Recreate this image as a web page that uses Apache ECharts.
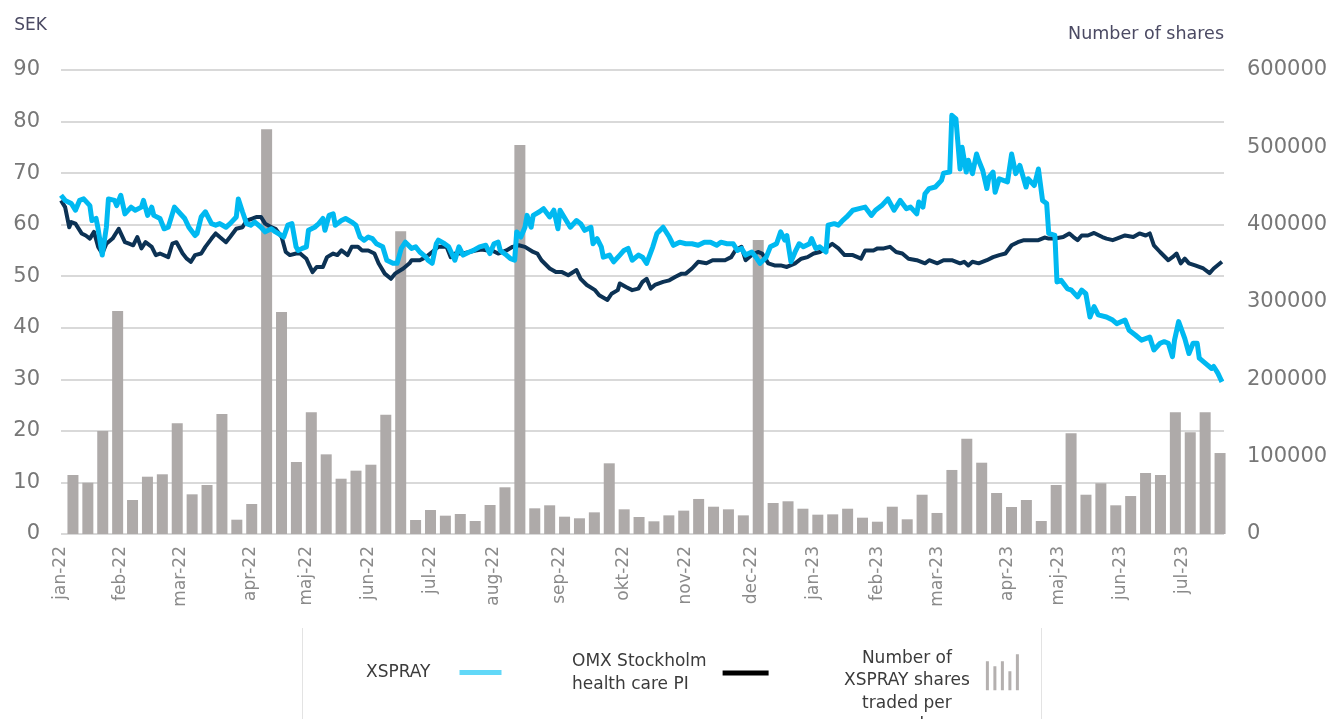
<!DOCTYPE html>
<html>
<head>
<meta charset="utf-8">
<script src="https://cdn.jsdelivr.net/npm/echarts@6.0.0/dist/echarts.min.js"></script>
<style>
  html, body { margin: 0; padding: 0; background: #fff; }
  #chart { width: 1334px; height: 719px; }
</style>
</head>
<body>
<div id="chart"></div>
<script>
// svenska månadsförkortningar för x-axeln
const monthNames = ['jan', 'feb', 'mar', 'apr', 'maj', 'jun', 'jul', 'aug', 'sep', 'okt', 'nov', 'dec'];

// första handelsdag i varje månad (där etiketterna står)
const monthTicks = [
  '2022-1-3', '2022-2-1', '2022-3-2', '2022-4-5', '2022-5-2', '2022-6-1', '2022-7-1', '2022-8-1', '2022-9-2', '2022-10-3',
  '2022-11-2', '2022-12-4', '2023-1-3', '2023-2-3', '2023-3-4', '2023-4-7', '2023-5-2', '2023-6-1', '2023-7-1'
];

// XSPRAY aktiekurs (SEK)
const xspray = [
  ['2022-1-3',65.7],['2022-1-5',64.7],['2022-1-8',64.1],['2022-1-10',62.8],['2022-1-12',64.7],['2022-1-14',65.0],['2022-1-17',63.7],['2022-1-18',60.8],['2022-1-20',61.2],['2022-1-21',59.2],
  ['2022-1-23',54.1],['2022-1-25',59.5],['2022-1-26',65.0],['2022-1-29',64.7],['2022-1-30',63.7],['2022-2-1',65.7],['2022-2-3',62.1],['2022-2-6',63.4],['2022-2-8',62.8],['2022-2-11',63.4],
  ['2022-2-12',64.7],['2022-2-14',61.8],['2022-2-16',63.4],['2022-2-17',61.8],['2022-2-20',61.2],['2022-2-22',59.2],['2022-2-24',59.5],['2022-2-27',63.4],['2022-3-1',62.5],['2022-3-4',61.2],
  ['2022-3-6',59.5],['2022-3-9',57.9],['2022-3-10',58.3],['2022-3-12',61.5],['2022-3-14',62.5],['2022-3-17',60.2],['2022-3-19',59.9],['2022-3-21',60.2],['2022-3-24',59.5],['2022-3-26',60.2],
  ['2022-3-29',61.5],['2022-3-30',65.0],['2022-4-1',62.5],['2022-4-3',60.2],['2022-4-5',59.9],['2022-4-7',60.5],['2022-4-10',59.5],['2022-4-12',58.6],['2022-4-15',59.2],['2022-4-17',58.6],
  ['2022-4-20',57.9],['2022-4-21',57.6],['2022-4-23',59.9],['2022-4-25',60.2],['2022-4-27',55.7],['2022-4-28',55.0],['2022-4-30',55.4],['2022-5-2',55.7],['2022-5-3',58.9],['2022-5-6',59.5],
  ['2022-5-8',60.2],['2022-5-10',61.2],['2022-5-11',58.9],['2022-5-13',61.8],['2022-5-15',62.1],['2022-5-16',59.9],['2022-5-19',60.8],['2022-5-21',61.2],['2022-5-24',60.5],['2022-5-26',59.9],
  ['2022-5-28',57.6],['2022-5-30',57.0],['2022-6-1',57.6],['2022-6-3',57.3],['2022-6-5',56.3],['2022-6-8',55.7],['2022-6-10',53.1],['2022-6-13',52.5],['2022-6-15',52.5],['2022-6-17',55.4],
  ['2022-6-19',56.6],['2022-6-22',55.4],['2022-6-24',55.7],['2022-6-26',54.7],['2022-6-29',53.7],['2022-6-30',53.1],['2022-7-2',52.5],['2022-7-4',56.3],['2022-7-5',57.0],['2022-7-8',56.3],
  ['2022-7-10',55.7],['2022-7-13',53.1],['2022-7-15',55.7],['2022-7-17',54.1],['2022-7-20',54.7],['2022-7-22',55.0],['2022-7-25',55.7],['2022-7-28',56.0],['2022-7-30',54.4],['2022-8-1',56.3],
  ['2022-8-3',56.6],['2022-8-4',55.0],['2022-8-7',54.1],['2022-8-9',53.4],['2022-8-11',53.1],['2022-8-12',58.6],['2022-8-14',57.6],['2022-8-16',59.5],['2022-8-17',61.8],['2022-8-19',59.5],
  ['2022-8-20',61.8],['2022-8-23',62.5],['2022-8-25',63.1],['2022-8-28',61.5],['2022-8-30',62.8],['2022-9-1',59.2],['2022-9-2',62.8],['2022-9-5',60.8],['2022-9-7',59.5],['2022-9-10',60.8],
  ['2022-9-12',60.2],['2022-9-14',58.9],['2022-9-17',59.5],['2022-9-18',56.3],['2022-9-20',57.3],['2022-9-22',55.7],['2022-9-23',53.7],['2022-9-26',54.1],['2022-9-28',52.8],['2022-10-1',54.1],
  ['2022-10-3',55.0],['2022-10-5',55.4],['2022-10-7',53.1],['2022-10-10',54.1],['2022-10-12',53.7],['2022-10-14',52.5],['2022-10-17',55.7],['2022-10-19',58.3],['2022-10-22',59.5],['2022-10-25',57.6],
  ['2022-10-27',56.0],['2022-10-30',56.6],['2022-11-2',56.3],['2022-11-5',56.3],['2022-11-8',56.0],['2022-11-11',56.6],['2022-11-14',56.6],['2022-11-17',56.0],['2022-11-19',56.6],['2022-11-22',56.3],
  ['2022-11-25',56.3],['2022-11-27',55.0],['2022-11-29',55.4],['2022-12-1',54.1],['2022-12-4',54.7],['2022-12-6',53.7],['2022-12-8',52.5],['2022-12-11',53.7],['2022-12-13',55.7],['2022-12-16',56.3],
  ['2022-12-18',58.6],['2022-12-20',57.0],['2022-12-21',57.9],['2022-12-23',52.8],['2022-12-25',54.7],['2022-12-27',56.3],['2022-12-29',55.7],['2023-1-1',56.3],['2023-1-2',57.3],['2023-1-4',55.4],
  ['2023-1-6',55.7],['2023-1-9',54.7],['2023-1-10',59.9],['2023-1-13',60.2],['2023-1-15',59.9],['2023-1-17',60.8],['2023-1-19',61.5],['2023-1-22',62.8],['2023-1-25',63.1],['2023-1-28',63.4],
  ['2023-1-31',61.8],['2023-2-2',62.8],['2023-2-5',63.7],['2023-2-8',65.0],['2023-2-11',62.8],['2023-2-14',64.7],['2023-2-17',63.1],['2023-2-19',63.4],['2023-2-22',62.1],['2023-2-23',64.4],
  ['2023-2-25',63.4],['2023-2-26',66.0],['2023-2-28',67.0],['2023-3-3',67.3],['2023-3-6',68.6],['2023-3-7',70.0],['2023-3-10',70.2],['2023-3-11',81.2],['2023-3-13',80.5],['2023-3-15',70.8],
  ['2023-3-16',75.0],['2023-3-18',70.2],['2023-3-19',72.5],['2023-3-21',69.9],['2023-3-23',73.7],['2023-3-24',72.5],['2023-3-26',70.5],['2023-3-28',67.0],['2023-3-29',69.2],['2023-3-31',70.2],
  ['2023-4-1',66.3],['2023-4-3',68.9],['2023-4-5',68.6],['2023-4-7',68.3],['2023-4-9',73.7],['2023-4-11',69.9],['2023-4-13',71.5],['2023-4-16',67.3],['2023-4-17',68.9],['2023-4-20',67.6],
  ['2023-4-22',70.8],['2023-4-24',64.7],['2023-4-26',64.1],['2023-4-27',58.3],['2023-4-30',57.9],['2023-5-1',48.9],['2023-5-3',49.2],['2023-5-6',47.6],['2023-5-8',47.3],['2023-5-11',46.0],
  ['2023-5-13',47.3],['2023-5-15',46.6],['2023-5-17',42.1],['2023-5-19',44.1],['2023-5-21',42.5],['2023-5-25',42.1],['2023-5-28',41.5],['2023-5-30',40.8],['2023-6-3',41.5],['2023-6-5',39.5],
  ['2023-6-8',38.6],['2023-6-11',37.6],['2023-6-15',38.2],['2023-6-17',35.7],['2023-6-20',37.0],['2023-6-22',37.3],['2023-6-24',37.0],['2023-6-26',34.4],['2023-6-27',37.6],['2023-6-29',41.2],
  ['2023-7-2',37.9],['2023-7-4',35.0],['2023-7-6',37.0],['2023-7-8',37.0],['2023-7-9',34.1],['2023-7-12',33.1],['2023-7-15',32.1],['2023-7-16',32.5],['2023-7-18',31.2],['2023-7-20',29.5]
];

// OMX Stockholm health care PI (omräknat till SEK-skalan)
const omx = [
  ['2022-1-3',64.7],['2022-1-5',63.4],['2022-1-7',59.5],['2022-1-8',60.5],['2022-1-10',60.2],['2022-1-13',58.3],['2022-1-15',57.9],['2022-1-17',57.3],['2022-1-19',58.6],['2022-1-21',55.7],
  ['2022-1-23',54.4],['2022-1-25',56.3],['2022-1-28',57.3],['2022-1-31',59.2],['2022-2-3',56.6],['2022-2-5',56.3],['2022-2-7',56.0],['2022-2-9',57.6],['2022-2-11',55.4],['2022-2-13',56.6],
  ['2022-2-16',55.7],['2022-2-18',54.1],['2022-2-20',54.4],['2022-2-24',53.7],['2022-2-26',56.3],['2022-2-28',56.6],['2022-3-3',54.4],['2022-3-5',53.4],['2022-3-7',52.8],['2022-3-9',54.1],
  ['2022-3-12',54.4],['2022-3-14',55.7],['2022-3-17',57.3],['2022-3-19',58.3],['2022-3-21',57.6],['2022-3-24',56.6],['2022-3-26',57.6],['2022-3-29',59.2],['2022-4-1',59.5],['2022-4-3',60.8],
  ['2022-4-6',61.2],['2022-4-8',61.5],['2022-4-10',61.5],['2022-4-12',60.2],['2022-4-15',59.5],['2022-4-17',59.2],['2022-4-20',57.6],['2022-4-22',54.7],['2022-4-24',54.1],['2022-4-27',54.4],
  ['2022-4-29',54.4],['2022-5-2',53.4],['2022-5-3',52.5],['2022-5-5',50.8],['2022-5-7',51.8],['2022-5-10',51.8],['2022-5-12',53.7],['2022-5-15',54.4],['2022-5-17',54.1],['2022-5-19',55.0],
  ['2022-5-22',54.1],['2022-5-24',55.7],['2022-5-27',55.7],['2022-5-29',55.0],['2022-6-1',55.0],['2022-6-4',54.4],['2022-6-6',52.5],['2022-6-9',50.5],['2022-6-12',49.5],['2022-6-14',50.5],
  ['2022-6-18',51.5],['2022-6-21',52.5],['2022-6-22',53.1],['2022-6-26',53.1],['2022-6-29',53.7],['2022-7-2',54.7],['2022-7-5',55.7],['2022-7-9',55.7],['2022-7-11',53.7],['2022-7-13',54.4],
  ['2022-7-17',54.4],['2022-7-20',54.7],['2022-7-23',55.0],['2022-7-26',55.2],['2022-7-29',55.0],['2022-7-31',55.0],['2022-8-3',54.4],['2022-8-7',55.0],['2022-8-10',55.7],['2022-8-13',56.0],
  ['2022-8-16',55.7],['2022-8-20',54.7],['2022-8-22',54.4],['2022-8-24',53.1],['2022-8-28',51.5],['2022-8-31',50.8],['2022-9-3',50.8],['2022-9-6',50.2],['2022-9-10',51.2],['2022-9-12',49.5],
  ['2022-9-15',48.3],['2022-9-19',47.3],['2022-9-21',46.3],['2022-9-25',45.4],['2022-9-27',46.6],['2022-9-30',47.3],['2022-10-1',48.6],['2022-10-4',47.9],['2022-10-7',47.3],['2022-10-10',47.6],
  ['2022-10-12',48.9],['2022-10-14',49.5],['2022-10-16',47.6],['2022-10-18',48.3],['2022-10-22',48.9],['2022-10-25',49.2],['2022-10-28',49.9],['2022-10-31',50.5],['2022-11-2',50.5],['2022-11-5',51.5],
  ['2022-11-8',52.8],['2022-11-12',52.5],['2022-11-15',53.1],['2022-11-18',53.1],['2022-11-21',53.1],['2022-11-24',53.7],['2022-11-26',55.0],['2022-11-29',55.7],['2022-12-1',53.1],['2022-12-4',54.1],
  ['2022-12-7',54.7],['2022-12-9',54.4],['2022-12-12',52.5],['2022-12-15',52.1],['2022-12-18',52.1],['2022-12-21',51.8],['2022-12-25',52.5],['2022-12-28',53.4],['2022-12-31',53.7],['2023-1-3',54.4],
  ['2023-1-6',54.7],['2023-1-10',55.7],['2023-1-12',56.3],['2023-1-15',55.4],['2023-1-18',54.1],['2023-1-22',54.1],['2023-1-26',53.4],['2023-1-28',55.0],['2023-2-1',55.0],['2023-2-3',55.4],
  ['2023-2-6',55.4],['2023-2-9',55.7],['2023-2-12',54.7],['2023-2-15',54.4],['2023-2-18',53.4],['2023-2-22',53.1],['2023-2-26',52.5],['2023-2-28',53.1],['2023-3-4',52.5],['2023-3-7',53.1],
  ['2023-3-11',53.1],['2023-3-15',52.5],['2023-3-17',52.8],['2023-3-19',52.1],['2023-3-21',52.8],['2023-3-24',52.5],['2023-3-28',53.1],['2023-3-31',53.7],['2023-4-3',54.1],['2023-4-6',54.4],
  ['2023-4-9',56.0],['2023-4-12',56.6],['2023-4-15',57.0],['2023-4-18',57.0],['2023-4-22',57.0],['2023-4-25',57.5],['2023-4-27',57.3],['2023-4-30',57.3],['2023-5-4',57.6],['2023-5-7',58.3],
  ['2023-5-9',57.6],['2023-5-11',57.0],['2023-5-13',57.9],['2023-5-16',57.9],['2023-5-19',58.4],['2023-5-23',57.6],['2023-5-25',57.3],['2023-5-28',57.0],['2023-5-30',57.3],['2023-6-3',57.9],
  ['2023-6-7',57.6],['2023-6-10',58.3],['2023-6-13',57.9],['2023-6-15',58.3],['2023-6-17',56.0],['2023-6-20',54.7],['2023-6-24',53.1],['2023-6-26',53.7],['2023-6-28',54.4],['2023-6-30',52.5],
  ['2023-7-2',53.4],['2023-7-4',52.5],['2023-7-7',52.1],['2023-7-11',51.5],['2023-7-14',50.6],['2023-7-16',51.5],['2023-7-20',52.8]
];

// veckor för staplarna
const weeks = [
  '22v1','22v2','22v3','22v4','22v5','22v6','22v7','22v8','22v9','22v10','22v11','22v12','22v13','22v14','22v15','22v16','22v17','22v18','22v19','22v20',
  '22v21','22v22','22v23','22v24','22v25','22v26','22v27','22v28','22v29','22v30','22v31','22v32','22v33','22v34','22v35','22v36','22v37','22v38','22v39','22v40',
  '22v41','22v42','22v43','22v44','22v45','22v46','22v47','22v48','22v49','22v50','22v51','22v52','23v1','23v2','23v3','23v4','23v5','23v6','23v7','23v8',
  '23v9','23v10','23v11','23v12','23v13','23v14','23v15','23v16','23v17','23v18','23v19','23v20','23v21','23v22','23v23','23v24','23v25','23v26'
];

// antal handlade XSPRAY-aktier per vecka
const volume = [
  76300, 66300, 133200, 288300, 44000, 74100, 77200, 143100, 51300, 63400,
  155200, 18500, 38800, 523300, 287000, 93100, 157400, 103000, 71500, 81900,
  89600, 154300, 391400, 18100, 31000, 23700, 25900, 16800, 37500, 60400,
  503000, 33200, 37100, 22400, 20300, 28000, 91400, 31900, 22000, 16400,
  24100, 30200, 45300, 35300, 31900, 24100, 380100, 40100, 42300, 32700,
  25000, 25400, 32700, 21100, 15900, 35300, 19000, 50800, 27200, 82800,
  123300, 92200, 53000, 34900, 44000, 16800, 63400, 130200, 50800, 65600,
  37100, 49100, 78900, 76300, 157400, 131500, 157400, 104700
];

const FONT = 'DejaVu Sans';
const TEXT_DARK = '#3b3b3b';
const X_MIN = '2022-1-3';
const X_MAX = '2023-7-21';

const toTime = s => +echarts.time.parse(s);

const chart = echarts.init(document.getElementById('chart'));

const option = {
  animation: false,
  textStyle: { fontFamily: FONT },
  grid: [
    { left: 61, right: 110, top: 70, bottom: 185 },
    { left: 65.5, right: 106.5, top: 70, bottom: 185 }
  ],
  xAxis: [
    {
      // datumaxel för kurserna
      type: 'time',
      gridIndex: 0,
      min: X_MIN,
      max: X_MAX,
      axisLine: { show: false },
      axisTick: { show: false },
      axisLabel: { show: false },
      splitLine: { show: false }
    },
    { type: 'category', gridIndex: 1, data: weeks, show: false },
    {
      // månadsetiketter vid första handelsdagen
      type: 'value',
      gridIndex: 0,
      position: 'bottom',
      min: toTime(X_MIN),
      max: toTime(X_MAX),
      axisLine: { show: false },
      axisTick: { show: false },
      splitLine: { show: false },
      axisLabel: {
        rotate: 90,
        margin: 12,
        fontSize: 17,
        color: '#8a8a8a',
        customValues: monthTicks.map(toTime),
        formatter: function (value) {
          const d = new Date(value);
          return monthNames[d.getMonth()] + '-' + String(d.getFullYear()).slice(2);
        }
      }
    }
  ],
  yAxis: [
    {
      type: 'value',
      gridIndex: 0,
      min: 0,
      max: 90,
      interval: 10,
      name: 'SEK',
      nameLocation: 'end',
      nameGap: 36,
      nameTextStyle: { align: 'right', padding: [0, 14, 0, 0], fontSize: 17, color: '#4b4a63' },
      axisLine: { show: false },
      axisTick: { show: false },
      axisLabel: { margin: 21, fontSize: 21, color: '#777777' },
      splitLine: { lineStyle: { color: '#d9d9d9', width: 2 } }
    },
    {
      type: 'value',
      gridIndex: 1,
      position: 'right',
      min: 0,
      max: 600000,
      interval: 100000,
      name: 'Number of shares',
      nameLocation: 'end',
      nameGap: 27,
      nameTextStyle: { align: 'right', padding: [0, 3.5, 0, 0], fontSize: 17.5, color: '#4b4a63' },
      axisLine: { show: false },
      axisTick: { show: false },
      axisLabel: { margin: 19.5, fontSize: 21, color: '#777777', formatter: v => String(v) },
      splitLine: { show: false }
    }
  ],
  legend: [
    {
      left: 366, top: 664, padding: 0, align: 'right', selectedMode: false,
      itemWidth: 42, itemHeight: 5,
      data: [{ name: 'XSPRAY', icon: 'rect', itemStyle: { color: '#62d8f8', borderWidth: 0 } }],
      textStyle: { fontFamily: FONT, fontSize: 17, color: TEXT_DARK, padding: [0, 24, 0, 0] }
    },
    {
      left: 572, top: 653, padding: 0, align: 'right', selectedMode: false,
      itemWidth: 46, itemHeight: 5,
      data: [{ name: 'OMX Stockholm health care PI', icon: 'rect', itemStyle: { color: '#000000', borderWidth: 0 } }],
      formatter: () => '{l|OMX Stockholm}\n{l|health care PI}',
      textStyle: {
        padding: [0, 11, 0, 0],
        rich: { l: { align: 'left', fontFamily: FONT, fontSize: 17, lineHeight: 23, color: TEXT_DARK } }
      }
    },
    {
      left: 844, top: 650, padding: 0, align: 'right', selectedMode: false,
      itemWidth: 33, itemHeight: 36,
      data: [{
        name: 'Number of XSPRAY shares traded per week',
        icon: 'path://M0,7h3v29h-3z M7.5,12h3v24h-3z M15,7h3v29h-3z M22.5,17h3v19h-3z M30,0h3v36h-3z',
        itemStyle: { color: '#b4b0af', borderWidth: 0 }
      }],
      formatter: () => '{c|Number of}\n{c|XSPRAY shares}\n{c|traded per}\n{c|week}',
      textStyle: {
        padding: [40, 11, 0, 0],
        rich: { c: { align: 'center', fontFamily: FONT, fontSize: 17, lineHeight: 22.5, color: TEXT_DARK } }
      }
    }
  ],
  graphic: [
    { type: 'line', shape: { x1: 302.5, y1: 628, x2: 302.5, y2: 719 }, style: { stroke: '#e3e3e3', lineWidth: 1 } },
    { type: 'line', shape: { x1: 1041.5, y1: 628, x2: 1041.5, y2: 719 }, style: { stroke: '#e3e3e3', lineWidth: 1 } }
  ],
  series: [
    {
      name: 'Number of XSPRAY shares traded per week',
      type: 'bar',
      xAxisIndex: 1,
      yAxisIndex: 1,
      barWidth: 11,
      itemStyle: { color: '#aeaaa9' },
      data: volume
    },
    {
      name: 'OMX Stockholm health care PI',
      type: 'line',
      xAxisIndex: 0,
      yAxisIndex: 0,
      symbol: 'none',
      lineStyle: { color: '#0c3254', width: 4, join: 'round' },
      itemStyle: { color: '#0c3254' },
      data: omx
    },
    {
      name: 'XSPRAY',
      type: 'line',
      xAxisIndex: 0,
      yAxisIndex: 0,
      symbol: 'none',
      lineStyle: { color: '#00b9f1', width: 5, join: 'round' },
      itemStyle: { color: '#00b9f1' },
      data: xspray
    }
  ]
};

chart.setOption(option);
</script>
</body>
</html>
